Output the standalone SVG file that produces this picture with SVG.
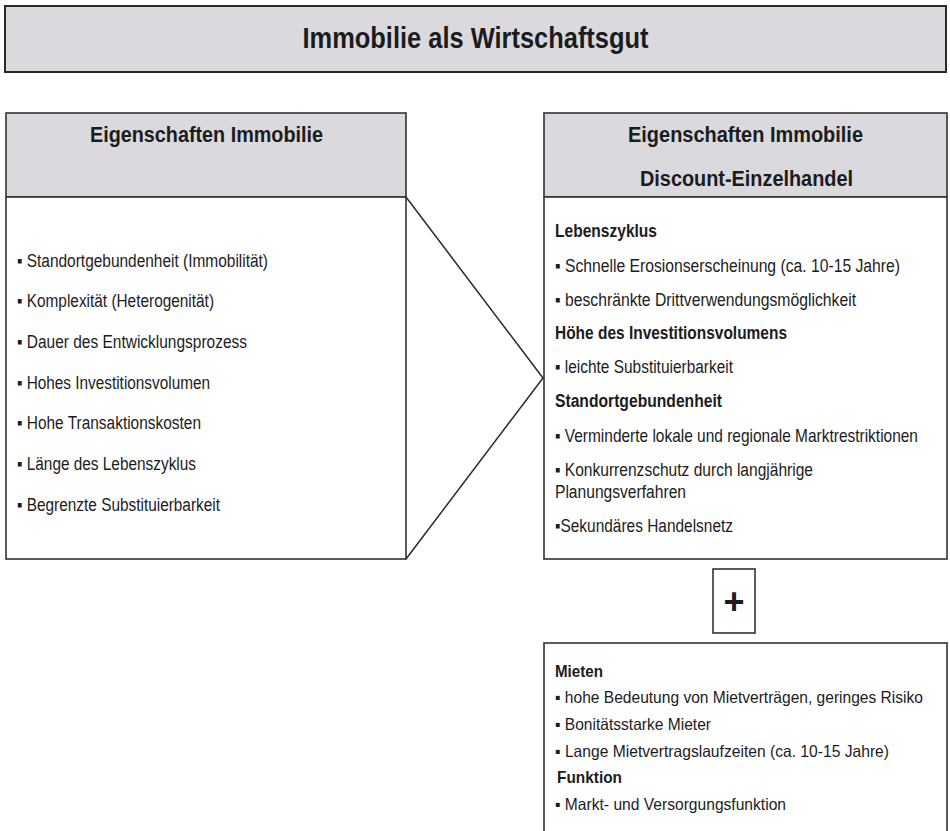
<svg xmlns="http://www.w3.org/2000/svg" width="950" height="831" viewBox="0 0 950 831">
<style>
text{font-family:"Liberation Sans",Arial,sans-serif;fill:#1c1c1c}
.hd{fill:#d9d9de;stroke:#333;stroke-width:1.6}
.bd{fill:#fff;stroke:#333;stroke-width:1.6}
.t{font-size:18px}
.s{font-size:16.5px}
.b{font-weight:bold}
.h{font-size:22px;font-weight:bold;text-anchor:middle}
.con{fill:none;stroke:#2a2a2a;stroke-width:1.5}
</style>
<rect width="950" height="831" fill="#fff"/>
<g id="title">
<rect x="5" y="6" width="941" height="66" fill="#d9d9de" stroke="#2a2a2a" stroke-width="2"/>
<text x="475.5" y="48" font-size="29" font-weight="bold" text-anchor="middle" textLength="346" lengthAdjust="spacingAndGlyphs">Immobilie als Wirtschaftsgut</text>
</g>
<g id="connectors">
<polyline class="con" points="406,197 543,378 406,559"/>
</g>
<g id="left">
<rect class="hd" x="6" y="113" width="400" height="84"/>
<rect class="bd" x="6" y="197" width="400" height="362"/>
<text class="h" x="206.5" y="142" textLength="233" lengthAdjust="spacingAndGlyphs">Eigenschaften Immobilie</text>
<text class="t" x="17" y="267" textLength="251" lengthAdjust="spacingAndGlyphs">▪ Standortgebundenheit  (Immobilität)</text>
<text class="t" x="17" y="307" textLength="197" lengthAdjust="spacingAndGlyphs">▪ Komplexität (Heterogenität)</text>
<text class="t" x="17" y="348" textLength="230" lengthAdjust="spacingAndGlyphs">▪ Dauer des Entwicklungsprozess</text>
<text class="t" x="17" y="389" textLength="193" lengthAdjust="spacingAndGlyphs">▪ Hohes Investitionsvolumen</text>
<text class="t" x="17" y="429" textLength="184" lengthAdjust="spacingAndGlyphs">▪ Hohe Transaktionskosten</text>
<text class="t" x="17" y="470" textLength="179" lengthAdjust="spacingAndGlyphs">▪ Länge des Lebenszyklus</text>
<text class="t" x="17" y="511" textLength="203" lengthAdjust="spacingAndGlyphs">▪ Begrenzte Substituierbarkeit</text>
</g>
<g id="right">
<rect class="hd" x="544" y="113" width="403" height="84"/>
<rect class="bd" x="544" y="197" width="403" height="362"/>
<text class="h" x="745.5" y="142" textLength="235" lengthAdjust="spacingAndGlyphs">Eigenschaften Immobilie</text>
<text class="h" x="746.5" y="186" textLength="213" lengthAdjust="spacingAndGlyphs">Discount-Einzelhandel</text>
<text class="t b" x="555" y="237" textLength="102" lengthAdjust="spacingAndGlyphs">Lebenszyklus</text>
<text class="t" x="555" y="272" textLength="345" lengthAdjust="spacingAndGlyphs">▪ Schnelle Erosionserscheinung  (ca. 10-15 Jahre)</text>
<text class="t" x="555" y="306" textLength="301" lengthAdjust="spacingAndGlyphs">▪ beschränkte Drittverwendungsmöglichkeit</text>
<text class="t b" x="555" y="339" textLength="232" lengthAdjust="spacingAndGlyphs">Höhe des Investitionsvolumens</text>
<text class="t" x="555" y="373" textLength="178" lengthAdjust="spacingAndGlyphs">▪ leichte Substituierbarkeit</text>
<text class="t b" x="555" y="407" textLength="167" lengthAdjust="spacingAndGlyphs">Standortgebundenheit</text>
<text class="t" transform="translate(555 442) scale(0.86 1)" x="0" y="0">▪ Verminderte lokale und regionale Marktrestriktionen</text>
<text class="t" x="555" y="476" textLength="258" lengthAdjust="spacingAndGlyphs">▪ Konkurrenzschutz durch langjährige</text>
<text class="t" x="555" y="498" textLength="131" lengthAdjust="spacingAndGlyphs">Planungsverfahren</text>
<text class="t" x="555" y="532" textLength="178" lengthAdjust="spacingAndGlyphs">▪Sekundäres Handelsnetz</text>
</g>
<g id="plus">
<rect class="bd" x="713" y="569" width="42" height="64" stroke-width="1.3"/>
<text x="734" y="614" font-size="36" font-weight="bold" text-anchor="middle">+</text>
</g>
<g id="bottom">
<rect class="bd" x="544" y="643" width="403" height="200"/>
<text class="s b" x="555" y="677" textLength="48" lengthAdjust="spacingAndGlyphs">Mieten</text>
<text class="s" x="555" y="703" textLength="368" lengthAdjust="spacingAndGlyphs">▪ hohe Bedeutung von Mietverträgen, geringes Risiko</text>
<text class="s" x="555" y="730" textLength="156" lengthAdjust="spacingAndGlyphs">▪ Bonitätsstarke Mieter</text>
<text class="s" x="555" y="757" textLength="334" lengthAdjust="spacingAndGlyphs">▪ Lange Mietvertragslaufzeiten (ca. 10-15 Jahre)</text>
<text class="s b" x="557" y="783" textLength="65" lengthAdjust="spacingAndGlyphs">Funktion</text>
<text class="s" x="555" y="810" textLength="231" lengthAdjust="spacingAndGlyphs">▪ Markt- und Versorgungsfunktion</text>
</g>
</svg>
